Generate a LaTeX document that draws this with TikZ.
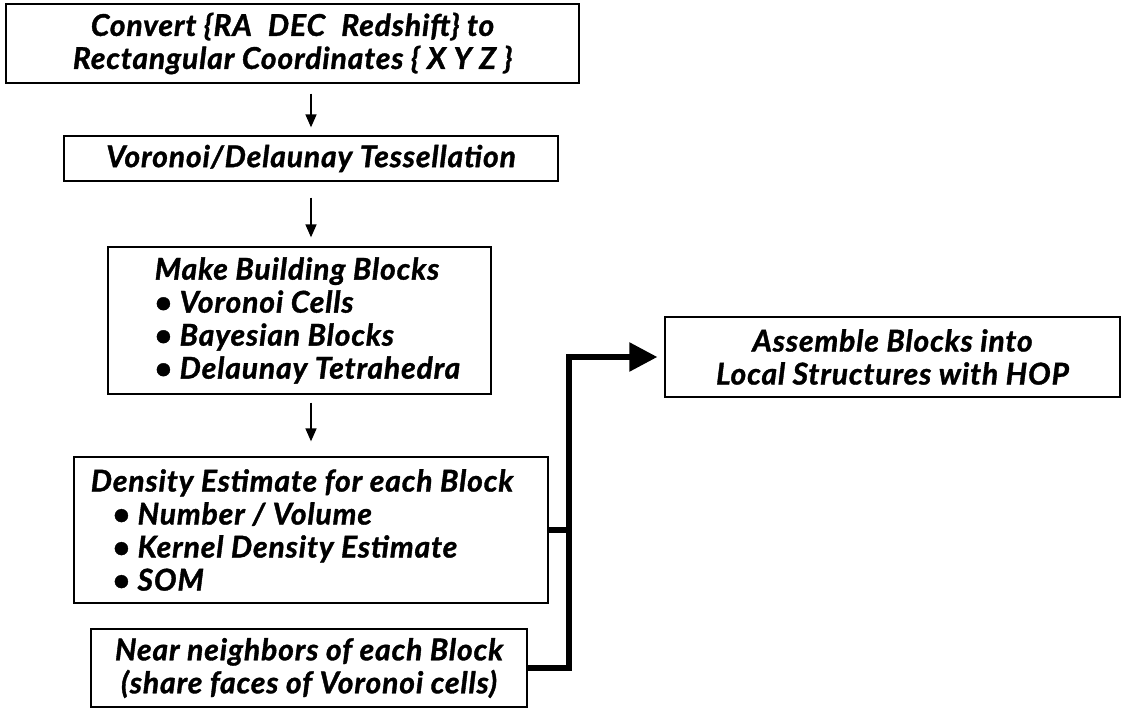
\documentclass[tikz,border=0pt]{standalone}
\usepackage{fontspec}
\setmainfont{Lato}[BoldItalicFeatures={FakeBold=1.2, LetterSpace=3}]
\usetikzlibrary{arrows.meta}

\tikzset{
  stage/.style={draw, line width=1.3pt, inner sep=0pt, align=center,
    font=\fontsize{30}{33}\selectfont\bfseries\itshape},
  flow/.style={line width=1.6pt, -{Triangle[length=13pt,width=11pt]}},
  bus/.style={line width=5.5pt}
}

\begin{document}
\begin{tikzpicture}[x=1pt, y=-1pt]
  \useasboundingbox (0,0) rectangle (1123,709);

  % processing chain
  \node[stage, minimum width=573pt, minimum height=79pt] (convert) at (292.5,43.5)
    {Convert \{RA\hspace{16pt}DEC\hspace{16pt}Redshift\} to\\ Rectangular Coordinates \{ X Y Z \}};
  \node[stage, minimum width=494pt, minimum height=45pt] (tess) at (311,158.5)
    {Voronoi/Delaunay Tessellation};
  \node[stage, minimum width=383pt, minimum height=147pt, align=left] (blocks) at (299.5,320.5)
    {\hspace*{16pt}Make Building Blocks\\
     \hspace*{16pt}\textbullet\ Voronoi Cells\\
     \hspace*{16pt}\textbullet\ Bayesian Blocks\\
     \hspace*{16pt}\textbullet\ Delaunay Tetrahedra};
  \node[stage, minimum width=474pt, minimum height=146pt, align=left] (density) at (311,530)
    {Density Estimate for each Block\hspace*{18pt}\\
     \hspace*{22pt}\textbullet\ Number / Volume\\
     \hspace*{22pt}\textbullet\ Kernel Density Estimate\\
     \hspace*{22pt}\textbullet\ SOM};
  \node[stage, minimum width=436pt, minimum height=78pt] (near) at (309,668)
    {Near neighbors of each Block\\ (share faces of Voronoi cells)};
  \node[stage, minimum width=455pt, minimum height=80pt] (assemble) at (892.5,357)
    {Assemble Blocks into\\ Local Structures with HOP};

  \draw[flow, shorten <=10pt, shorten >=8pt] (convert.south -| tess.north) -- (tess.north);
  \draw[flow, shorten <=16pt, shorten >=9pt] (tess.south) -- (tess.south |- blocks.north);
  \draw[flow, shorten <=8pt, shorten >=15pt] (blocks.south -| density.north) -- (density.north);

  % merge into HOP
  \coordinate (turn) at (569,357);
  \draw[bus, -{Triangle[length=28pt,width=28pt]}, shorten >=7pt]
    (near.east) -| (turn) -- (assemble.west);
  \draw[bus] (density.east) -- (density.east -| turn);
\end{tikzpicture}
\end{document}
